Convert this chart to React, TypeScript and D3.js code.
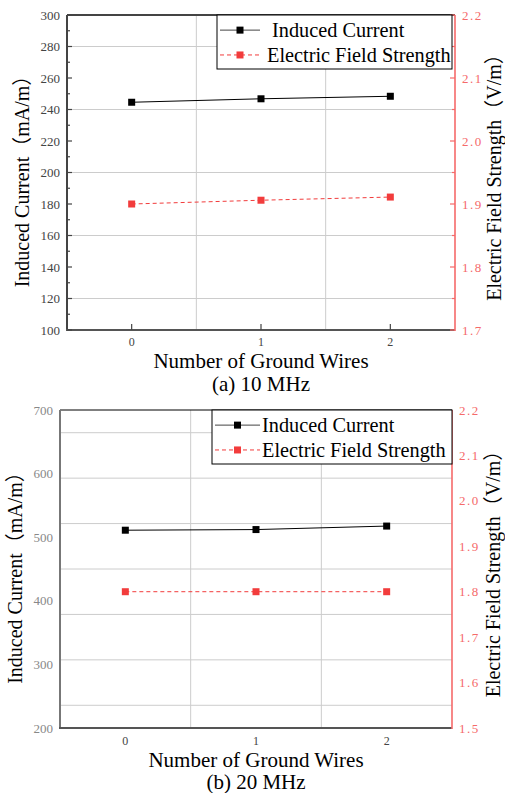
import React from "react";
import * as d3 from "d3";

const groundWires = [0, 1, 2];
const current10 = [244.6, 246.8, 248.4];
const field10 = [1.9, 1.906, 1.911];
const current20 = [511, 512, 517.5];
const field20 = [1.8, 1.8, 1.8];

const leftTicks10 = [100, 120, 140, 160, 180, 200, 220, 240, 260, 280, 300];
const leftMinor10 = [110, 130, 150, 170, 190, 210, 230, 250, 270, 290];
const rightTicks10 = [1.7, 1.8, 1.9, 2.0, 2.1, 2.2];
const rightMinor10 = [1.75, 1.85, 1.95, 2.05, 2.15];

const leftTicks20 = [200, 300, 400, 500, 600, 700];
const rightTicks20 = [1.5, 1.6, 1.7, 1.8, 1.9, 2.0, 2.1, 2.2];
const rightMinor20 = [1.55, 1.65, 1.75, 1.85, 1.95, 2.05, 2.15];

const xGrid = [0.5, 1.5];
const legendLabels = ["Induced Current", "Electric Field Strength"];

const SERIF = "Liberation Serif, Times New Roman, Noto Sans CJK SC, serif";
const RED = "#f23c3c";
const RED_AXIS = "#f56a6a";

type PanelProps = {
  box: { l: number; r: number; t: number; b: number };
  leftDomain: [number, number];
  rightDomain: [number, number];
  leftTicks: number[];
  leftMinor: number[];
  rightTicks: number[];
  rightMinor: number[];
  current: number[];
  field: number[];
  showTicks: boolean;
  caption: string;
  legendBox: { x0: number; x1: number; y0: number; y1: number };
  legendTextX: number[];
  legendLine: [number, number];
  leftColor: string;
  topColor: string;
  topWidth: number;
  leftLabelColor: string;
  xTitleY: number;
  captionY: number;
  xLabelY: number;
  leftTitleX: number;
  rightTitleX: number;
};

function Panel(p: PanelProps) {
  const { box } = p;
  const x = d3.scaleLinear().domain([-0.5, 2.5]).range([box.l, box.r]);
  const yL = d3.scaleLinear().domain(p.leftDomain).range([box.b, box.t]);
  const yR = d3.scaleLinear().domain(p.rightDomain).range([box.b, box.t]);
  const lineL = d3
    .line<number>()
    .x((_, i) => x(groundWires[i]))
    .y((d) => yL(d));
  const lineR = d3
    .line<number>()
    .x((_, i) => x(groundWires[i]))
    .y((d) => yR(d));
  const cy = (box.t + box.b) / 2;
  const cx = (box.l + box.r) / 2;
  const ms = 7;
  const lg = p.legendBox;
  const ly = [lg.y0 + (lg.y1 - lg.y0) * 0.28, lg.y0 + (lg.y1 - lg.y0) * 0.74];
  const lmid = (p.legendLine[0] + p.legendLine[1]) / 2;
  return (
    <g>
      {p.rightMinor.map((v) => (
        <line key={"g" + v} x1={box.l} x2={box.r} y1={yR(v)} y2={yR(v)} stroke="#cccccc" strokeWidth={1} />
      ))}
      {xGrid.map((v) => (
        <line key={"gx" + v} x1={x(v)} x2={x(v)} y1={box.t} y2={box.b} stroke="#cccccc" strokeWidth={1} />
      ))}
      <line x1={box.l} x2={box.r} y1={box.t} y2={box.t} stroke={p.topColor} strokeWidth={p.topWidth} />
      <line x1={box.l} x2={box.l} y1={box.t} y2={box.b} stroke={p.leftColor} strokeWidth={2} />
      <line x1={box.l - 1} x2={box.r} y1={box.b} y2={box.b} stroke="#555" strokeWidth={2} />
      <line x1={box.r} x2={box.r} y1={box.t} y2={box.b + 1} stroke={RED_AXIS} strokeWidth={1.6} />
      {p.showTicks && (
        <g>
          {p.leftTicks.map((v) => (
            <line key={"lt" + v} x1={box.l} x2={box.l + 5} y1={yL(v)} y2={yL(v)} stroke="#444" strokeWidth={1.2} />
          ))}
          {p.leftMinor.map((v) => (
            <line key={"lm" + v} x1={box.l} x2={box.l + 3} y1={yL(v)} y2={yL(v)} stroke="#444" strokeWidth={1.2} />
          ))}
          {p.rightTicks.map((v) => (
            <line key={"rt" + v} x1={box.r} x2={box.r - 5} y1={yR(v)} y2={yR(v)} stroke={RED_AXIS} strokeWidth={1.2} />
          ))}
          {p.rightMinor.map((v) => (
            <line key={"rm" + v} x1={box.r} x2={box.r - 3} y1={yR(v)} y2={yR(v)} stroke={RED_AXIS} strokeWidth={1.2} />
          ))}
          {groundWires.map((v) => (
            <line key={"xt" + v} x1={x(v)} x2={x(v)} y1={box.b} y2={box.b - 6} stroke="#444" strokeWidth={1.2} />
          ))}
        </g>
      )}
      {p.leftTicks.map((v) => (
        <text key={"ll" + v} x={box.l - 7} y={yL(v)} dy="0.35em" textAnchor="end" fontFamily={SERIF} fontSize={13} fill={p.leftLabelColor}>
          {v}
        </text>
      ))}
      {p.rightTicks.map((v) => (
        <text key={"rl" + v} x={box.r + 7} y={yR(v)} dy="0.35em" textAnchor="start" fontFamily={SERIF} fontSize={13} fill={RED_AXIS} letterSpacing={1.5}>
          {d3.format(".1f")(v)}
        </text>
      ))}
      {groundWires.map((v) => (
        <text key={"xl" + v} x={x(v)} y={p.xLabelY} dy="0.35em" textAnchor="middle" fontFamily={SERIF} fontSize={12} fill="#444">
          {v}
        </text>
      ))}
      <path d={lineL(p.current) || ""} fill="none" stroke="#000" strokeWidth={1} />
      {p.current.map((v, i) => (
        <rect key={"cm" + i} x={x(groundWires[i]) - ms / 2} y={yL(v) - ms / 2} width={ms} height={ms} fill="#000" />
      ))}
      <path d={lineR(p.field) || ""} fill="none" stroke={RED} strokeWidth={1} strokeDasharray="4,3" />
      {p.field.map((v, i) => (
        <rect key={"fm" + i} x={x(groundWires[i]) - ms / 2} y={yR(v) - ms / 2} width={ms} height={ms} fill={RED} />
      ))}
      <rect x={lg.x0} y={lg.y0} width={lg.x1 - lg.x0} height={lg.y1 - lg.y0} fill="#fff" stroke="#000" strokeWidth={1} />
      <line x1={p.legendLine[0]} x2={p.legendLine[1]} y1={ly[0]} y2={ly[0]} stroke="#444" strokeWidth={1} />
      <rect x={lmid - 3.5} y={ly[0] - 3.5} width={7} height={7} fill="#000" />
      <line x1={p.legendLine[0]} x2={p.legendLine[1]} y1={ly[1]} y2={ly[1]} stroke={RED} strokeWidth={1} strokeDasharray="4,3" />
      <rect x={lmid - 3.5} y={ly[1] - 3.5} width={7} height={7} fill={RED} />
      {legendLabels.map((t, i) => (
        <text key={t} x={p.legendTextX[i]} y={ly[i]} dy="0.35em" fontFamily={SERIF} fontSize={20.3} fill="#000">
          {t}
        </text>
      ))}
      <text
        transform={`translate(${p.leftTitleX},${cy + 4}) rotate(-90)`}
        textAnchor="middle"
        dy="0.35em"
        fontFamily={SERIF}
        fontSize={20}
        fill="#000"
      >
        Induced Current（mA/m）
      </text>
      <text
        transform={`translate(${p.rightTitleX},${cy}) rotate(-90)`}
        textAnchor="middle"
        dy="0.35em"
        fontFamily={SERIF}
        fontSize={20}
        fill="#000"
      >
        Electric Field Strength（V/m）
      </text>
      <text x={cx} y={p.xTitleY} dy="0.35em" textAnchor="middle" fontFamily={SERIF} fontSize={21} fill="#000">
        Number of Ground Wires
      </text>
      <text x={cx} y={p.captionY} dy="0.35em" textAnchor="middle" fontFamily={SERIF} fontSize={21} fill="#000">
        {p.caption}
      </text>
    </g>
  );
}

export default function App() {
  return (
    <svg
      width={505}
      height={793}
      style={{ position: "absolute", left: 0, top: 0, background: "#fff" }}
    >
      <rect x={0} y={0} width={505} height={793} fill="#fff" />
      <Panel
        box={{ l: 67, r: 455, t: 15, b: 330 }}
        leftDomain={[100, 300]}
        rightDomain={[1.7, 2.2]}
        leftTicks={leftTicks10}
        leftMinor={leftMinor10}
        rightTicks={rightTicks10}
        rightMinor={rightMinor10}
        current={current10}
        field={field10}
        showTicks={true}
        caption="(a) 10 MHz"
        legendBox={{ x0: 217, x1: 452, y0: 15, y1: 69 }}
        legendTextX={[272, 267]}
        legendLine={[220, 260]}
        leftColor="#444"
        topColor="#444"
        topWidth={2}
        leftLabelColor="#444"
        xTitleY={361}
        captionY={384}
        xLabelY={342}
        leftTitleX={22}
        rightTitleX={494}
      />
      <Panel
        box={{ l: 60, r: 452, t: 410, b: 728 }}
        leftDomain={[200, 700]}
        rightDomain={[1.5, 2.2]}
        leftTicks={leftTicks20}
        leftMinor={[]}
        rightTicks={rightTicks20}
        rightMinor={rightMinor20}
        current={current20}
        field={field20}
        showTicks={false}
        caption="(b) 20 MHz"
        legendBox={{ x0: 212, x1: 452, y0: 410, y1: 464 }}
        legendTextX={[262, 262]}
        legendLine={[215, 260]}
        leftColor="#777"
        topColor="#000"
        topWidth={1}
        leftLabelColor="#888"
        xTitleY={760}
        captionY={782}
        xLabelY={741}
        leftTitleX={15}
        rightTitleX={493}
      />
    </svg>
  );
}
